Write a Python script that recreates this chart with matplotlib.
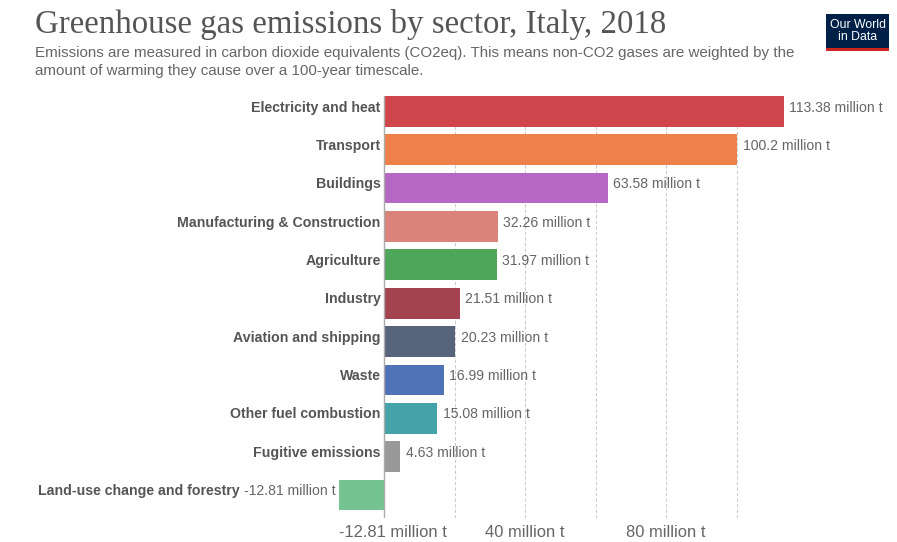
import numpy as np
import matplotlib.pyplot as plt
from matplotlib.patches import Rectangle

sectors = ["Electricity and heat", "Transport", "Buildings", "Manufacturing & Construction",
           "Agriculture", "Industry", "Aviation and shipping", "Waste",
           "Other fuel combustion", "Fugitive emissions", "Land-use change and forestry"]
values = [113.38, 100.2, 63.58, 32.26, 31.97, 21.51, 20.23, 16.99, 15.08, 4.63, -12.81]
value_labels = ["113.38 million t", "100.2 million t", "63.58 million t", "32.26 million t",
                "31.97 million t", "21.51 million t", "20.23 million t", "16.99 million t",
                "15.08 million t", "4.63 million t", "-12.81 million t"]
colors = ["#d0444b", "#ee814a", "#b467c4", "#d9837a", "#4ea65b", "#a2434f",
          "#58647c", "#5073b7", "#44a3a9", "#999999", "#74c391"]
tick_vals = [-12.81, 40, 80]
tick_labels = ["-12.81 million t", "40 million t", "80 million t"]
grid_vals = [20, 40, 60, 80, 100]

W, H = 897, 542
fig = plt.figure(figsize=(W / 100, H / 100), dpi=100)

# axes placed in pixel coords: x -12.81 -> 339px, 120 -> 807px ; y top 96, bottom 518
x0, x1 = 339, 807
y_top, y_bot = 96, 518
ax = fig.add_axes([x0 / W, 1 - y_bot / H, (x1 - x0) / W, (y_bot - y_top) / H])
ax.set_xlim(-12.81, 120)
ax.set_ylim(10.6, -0.4)

pos = np.arange(len(sectors))
for g in grid_vals:
    ax.axvline(g, color="#cccccc", lw=0.8, ls=(0, (3, 2)), zorder=0)
ax.axvline(0, color="#aaaaaa", lw=1, zorder=3)

ax.barh(pos, values, height=0.8, color=colors, zorder=2)

lab_kw = dict(va="center", fontsize=10.1, color="#666666", family="Liberation Sans")
name_kw = dict(va="center", ha="right", fontsize=10.2, fontweight="bold",
               color="#555555", family="Liberation Sans")
for p, v, lab, name in zip(pos, values, value_labels, sectors):
    ty = p - 0.1  # labels sit a little above bar centre
    if v >= 0:
        ax.text(v + 1.5, ty, lab, ha="left", **lab_kw)
        ax.text(-1, ty, name, **name_kw)
    else:
        t = ax.text(v - 1, ty, lab, ha="right", **lab_kw)
        fig.canvas.draw()
        bb = t.get_window_extent().transformed(ax.transData.inverted())
        ax.text(bb.x0 - 1.2, ty, name, **name_kw)

ax.set_xticks(tick_vals)
ax.set_xticklabels(tick_labels, fontsize=11.9, color="#666666", family="Liberation Sans")
ax.get_xticklabels()[0].set_ha("left")
ax.tick_params(axis="x", length=0, pad=5)
ax.set_yticks([])
for s in ax.spines.values():
    s.set_visible(False)

fig.text(35 / W, 1 - 24 / H, "Greenhouse gas emissions by sector, Italy, 2018",
         fontsize=23.7, family="Liberation Serif", color="#555555", va="center")
fig.text(35 / W, 1 - 53 / H, "Emissions are measured in carbon dioxide equivalents (CO2eq). This means non-CO2 gases are weighted by the",
         fontsize=10.9, family="Liberation Sans", color="#666666", va="center")
fig.text(35 / W, 1 - 71 / H, "amount of warming they cause over a 100-year timescale.",
         fontsize=10.9, family="Liberation Sans", color="#666666", va="center")

# logo
fig.patches.append(Rectangle((826 / W, 1 - 51 / H), 63 / W, 37 / H, transform=fig.transFigure,
                             facecolor="#002147", edgecolor="none"))
fig.patches.append(Rectangle((826 / W, 1 - 51 / H), 63 / W, 3 / H, transform=fig.transFigure,
                             facecolor="#ce261e", edgecolor="none"))
fig.text(857.5 / W, 1 - 31 / H, "Our World\nin Data", fontsize=8.8, color="white",
         family="Liberation Sans", ha="center", va="center", linespacing=1.0)

fig.savefig("out.png", dpi=100)
